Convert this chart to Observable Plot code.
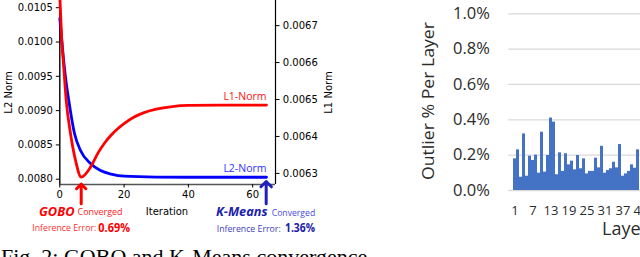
<!DOCTYPE html>
<html><head><meta charset="utf-8">
<script src="https://cdn.jsdelivr.net/npm/d3@7"></script>
<script src="https://cdn.jsdelivr.net/npm/@observablehq/plot@0.6"></script>
<style>
html,body{margin:0;padding:0;background:#fff;}
body{width:640px;height:257px;overflow:hidden;position:relative;}
.abs{position:absolute;top:0;}
</style></head><body>
<div id="left" class="abs" style="left:0;width:330px"></div>
<div id="left2" class="abs" style="left:0;width:330px"></div>
<div id="right" class="abs" style="left:330px;width:403px"></div>
<div id="notes" class="abs" style="left:0;width:640px"></div>
<script>
// ---------- Data: left chart (convergence) ----------
const iterationsL2 = [0, 1.15, 1.77, 2.8, 4.57, 6.44, 9.55, 12.66, 16, 20, 30, 40, 64.3];
const l2Norm = [0.010343, 0.009755, 0.009487, 0.009147, 0.008666, 0.008418, 0.008229, 0.008127, 0.008075, 0.008044, 0.008031, 0.008029, 0.008029];
const iterationsL1 = [0, 0.62, 1.24, 2.0, 3.33, 4.9, 6.66, 9.55, 12, 14, 16, 18, 20, 23, 26, 30, 35, 40, 50, 64.3];
const l1Norm = [0.00678, 0.006659, 0.006586, 0.006497, 0.006408, 0.006335, 0.00629, 0.006317, 0.006357, 0.006383, 0.006404, 0.006421, 0.006435, 0.006452, 0.006464, 0.006474, 0.006481, 0.006484, 0.006485, 0.006485];
const iterTicks = [0, 20, 40, 60];
const l2Ticks = [0.0080, 0.0085, 0.0090, 0.0095, 0.0100, 0.0105];
const l1Ticks = [0.0063, 0.0064, 0.0065, 0.0066, 0.0067];
// convergence markers: iteration, arrow tail value, arrow tip value (L2 axis units)
const convergedIter = [6.66, 64.2];
const arrowTail = [0.0076414, 0.0076414];
const arrowTip = [0.00793, 0.007966];

// ---------- Data: right chart (outliers per layer, %) ----------
const outlierPct = [0.179,0.23,0.075,0.32,0.081,0.194,0.17,0.2,0.098,0.33,0.104,0.198,0.41,0.387,0.089,0.213,0.108,0.208,0.145,0.166,0.117,0.198,0.123,0.179,0.094,0.108,0.108,0.183,0.128,0.25,0.098,0.113,0.123,0.16,0.128,0.26,0.081,0.094,0.108,0.145,0.126,0.23];
const layerTicks = [1, 7, 13, 19, 25, 31, 37, 43];
const pctTicks = [0, 0.2, 0.4, 0.6, 0.8, 1.0];
const layerDomain = d3.range(1, 73);

const l2Data = iterationsL2.map((it, i) => ({it, v: l2Norm[i]}));
const l1Data = iterationsL1.map((it, i) => ({it, v: l1Norm[i]}));
const arrows = convergedIter.map((it, i) => ({it, y1: arrowTail[i], y2: arrowTip[i], c: i === 0 ? "#ff0000" : "#2020b8"}));
const bars = outlierPct.map((p, i) => ({layer: i + 1, p}));

const xDom = [0, 67.1];
const yL2Dom = [0.007923, 0.010605];
const yL1Dom = [0.00627, 0.006768];
const common = {width: 330, height: 257, marginLeft: 59.3, marginRight: 55, marginTop: 0, marginBottom: 73};
const fmt4 = d3.format(".4f");

const left = Plot.plot({
  ...common,
  style: {fontFamily: "DejaVu Sans", fontSize: "10px", background: "transparent", maxWidth: "none", color: "#000"},
  x: {domain: xDom},
  y: {domain: yL2Dom},
  marks: [
    Plot.ruleX([xDom[0]], {stroke: "#000", strokeWidth: 1.4}),
    Plot.ruleX([xDom[1]], {stroke: "#000", strokeWidth: 1.2}),
    Plot.ruleY([yL2Dom[0]], {stroke: "#555", strokeWidth: 1.3}),
    Plot.axisY(l2Ticks, {tickFormat: fmt4, tickSize: 3.5, tickPadding: 3.5, label: null, fontSize: 10}),
    Plot.axisX(iterTicks, {tickSize: 3.5, tickPadding: 3, label: null, fontSize: 10}),
    Plot.line(l2Data, {x: "it", y: "v", stroke: "#0000ff", strokeWidth: 2.8, curve: "monotone-x"}),
    Plot.text([l2Data[l2Data.length - 1]], {x: "it", y: "v", text: () => "L2-Norm", textAnchor: "end", dy: -9, fill: "#3030ff", fontSize: 10.5, fontFamily: "Open Sans"}),
    Plot.arrow(arrows, {x: "it", y1: "y1", y2: "y2", stroke: "c", strokeWidth: 3, headAngle: 90, headLength: 20})
  ]
});
document.getElementById("left").append(left);

const left2 = Plot.plot({
  ...common,
  style: {fontFamily: "DejaVu Sans", fontSize: "10px", background: "transparent", maxWidth: "none", color: "#000"},
  x: {domain: xDom, axis: null},
  y: {domain: yL1Dom, axis: null},
  marks: [
    Plot.axisY(l1Ticks, {anchor: "right", tickFormat: fmt4, tickSize: 3.5, tickPadding: 3.8, label: null, fontSize: 10}),
    Plot.line(l1Data, {x: "it", y: "v", stroke: "#ff0000", strokeWidth: 2.8, curve: "monotone-x"}),
    Plot.text([l1Data[l1Data.length - 1]], {x: "it", y: "v", text: () => "L1-Norm", textAnchor: "end", dy: -8, fill: "#ff1010", fontSize: 10.5, fontFamily: "Open Sans"})
  ]
});
document.getElementById("left2").append(left2);

const right = Plot.plot({
  width: 402.3, height: 257, marginLeft: 178.3, marginRight: 0, marginTop: 13.3, marginBottom: 67,
  style: {fontFamily: "Open Sans", background: "transparent", maxWidth: "none", color: "#2b2b2b"},
  x: {type: "band", domain: layerDomain, paddingInner: 0.15, paddingOuter: 0},
  y: {domain: [0, 1]},
  marks: [
    Plot.gridY(pctTicks, {stroke: "#d9d9d9", strokeOpacity: 1, strokeWidth: 1.3}),
    Plot.barY(bars, {x: "layer", y: "p", fill: "#4472c4"}),
    Plot.axisY(pctTicks, {tickSize: 0, tickPadding: 19, fontSize: 16.5, tickFormat: d => d.toFixed(1) + "%", label: null}),
    Plot.axisX(layerTicks, {tickSize: 0, tickPadding: 15, fontSize: 13, label: null})
  ]
});
document.getElementById("right").append(right);

// ---------- Text annotations ----------
const svg = d3.create("svg").attr("width", 640).attr("height", 257).style("display", "block");
function note(t, x, y, o = {}) {
  const el = svg.append("text").attr("x", x).attr("y", y).text(t)
    .attr("font-family", o.font || "Open Sans").attr("font-size", o.size || 10)
    .attr("fill", o.fill || "#000").attr("text-anchor", o.anchor || "start");
  if (o.weight) el.attr("font-weight", o.weight);
  if (o.style) el.attr("font-style", o.style);
  if (o.rot) el.attr("transform", `rotate(-90 ${x} ${y})`);
  if (o.len) el.attr("textLength", o.len).attr("lengthAdjust", "spacingAndGlyphs");
  return el;
}
note("L2 Norm", 11.5, 92.5, {font: "DejaVu Sans", size: 10, anchor: "middle", rot: true});
note("L1 Norm", 331.5, 92.5, {font: "DejaVu Sans", size: 10, anchor: "middle", rot: true});
note("Iteration", 167, 215, {font: "DejaVu Sans", size: 10, anchor: "middle"});
note("GOBO", 39, 215.5, {size: 12.5, weight: "bold", style: "italic", fill: "#ff0000", len: 35.5});
note("Converged", 77.5, 215, {size: 9, fill: "#ff2020", len: 45});
note("Inference Error: ", 32.3, 231, {size: 9, fill: "#ff3030", len: 64});
note("0.69%", 98.3, 231.5, {size: 11.5, weight: "bold", fill: "#ff0000", len: 31.7});
note("K-Means", 216, 216, {size: 12.5, weight: "bold", style: "italic", fill: "#2020b0", len: 51.5});
note("Converged", 271.7, 216, {size: 9, fill: "#4a4ae0", len: 43.5});
note("Inference Error: ", 216.7, 231.5, {size: 9, fill: "#4040c0", len: 64});
note("1.36%", 285, 232, {size: 11.5, weight: "bold", fill: "#2020a8", len: 30});
note("Outlier % Per Layer", 433.5, 101, {size: 16.5, anchor: "middle", rot: true, fill: "#2b2b2b", len: 158});
note("Layer", 602, 235, {size: 18, fill: "#2b2b2b"});
note("Fig. 2: GOBO and K-Means convergence", 1, 264, {font: "Liberation Serif", size: 22});
document.getElementById("notes").append(svg.node());
</script>
</body></html>
